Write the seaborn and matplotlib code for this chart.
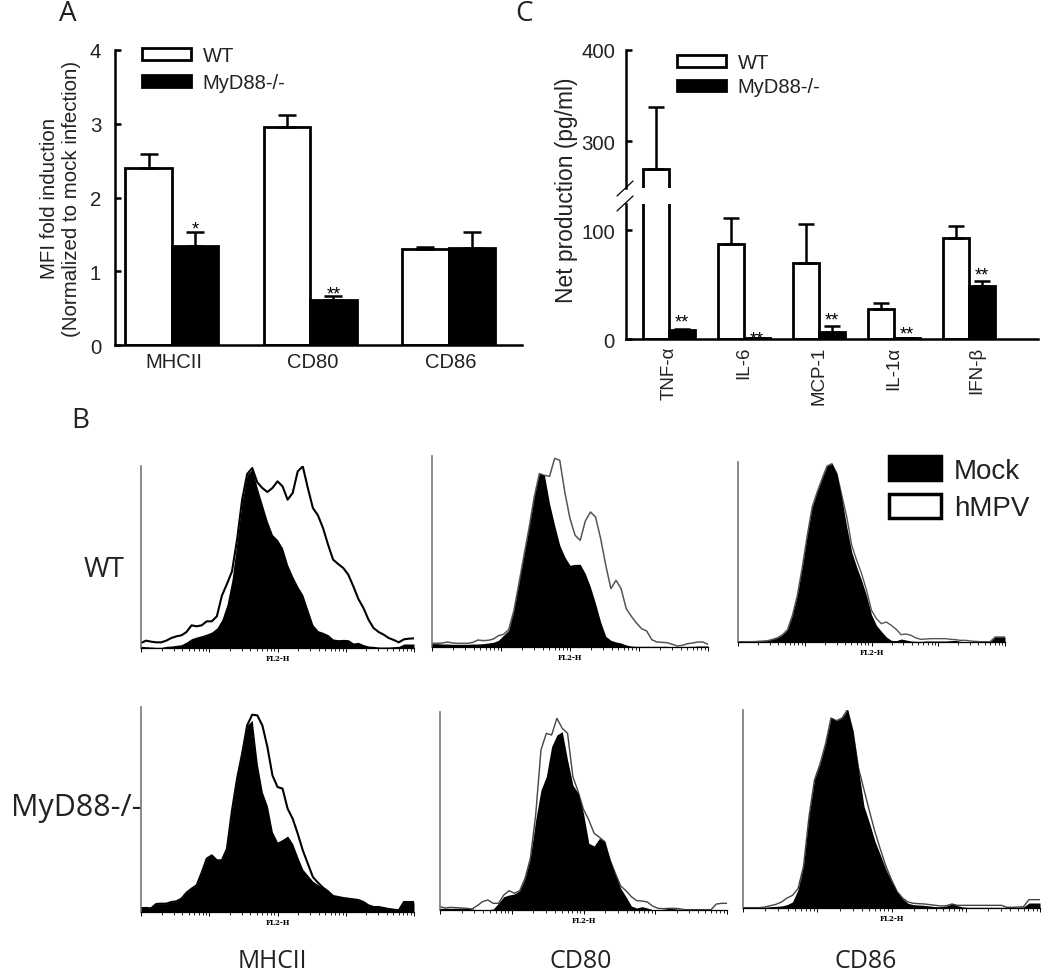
import numpy as np
import pandas as pd
import matplotlib
matplotlib.use('Agg')
import matplotlib.pyplot as plt
from matplotlib.lines import Line2D
from matplotlib.patches import Patch
from matplotlib.ticker import LogLocator, NullFormatter
from matplotlib.transforms import ScaledTranslation
import seaborn as sns

# Bar panels
genotypes = ['WT', 'MyD88-/-']

a_markers = ['MHCII', 'CD80', 'CD86']
a_wt = [2.40, 2.95, 1.30]
a_ko = [1.34, 0.61, 1.32]
a_wt_err = [0.19, 0.17, 0.03]
a_ko_err = [0.19, 0.05, 0.21]
a_ko_stars = ['*', '**', '']

c_cytokines = ['TNF-α', 'IL-6', 'MCP-1', 'IL-1α', 'IFN-β']
c_wt = [269, 87, 70, 27.5, 93]
c_ko = [8, 1, 6, 1, 48.5]
c_wt_err = [68, 24, 35.5, 5.5, 11]
c_ko_err = [1, 0, 6, 0, 5]
c_ko_stars = ['**', '**', '**', '**', '**']

# Flow cytometry histograms, counts on 55 log spaced FL2-H channels
channels = 10 ** np.linspace(0, 4, 55)

wt_mhcii_mock = [5, 4, 3, 2, 2, 5, 6, 8, 10, 18, 28, 33, 37, 42, 48, 60, 85, 130, 205, 320, 440, 520, 537, 480, 430, 380, 340, 325, 300, 250, 215, 185, 160, 115, 70, 52, 47, 40, 27, 25, 26, 25, 15, 17, 10, 6, 5, 3, 3, 3, 4, 5, 12, 12, 12]
wt_mhcii_hmpv = [15, 22, 19, 17, 17, 22, 30, 35, 38, 48, 68, 65, 68, 80, 80, 95, 157, 192, 230, 325, 445, 522, 540, 497, 480, 468, 480, 500, 485, 445, 465, 530, 545, 480, 420, 398, 360, 310, 265, 252, 240, 220, 185, 147, 120, 85, 60, 48, 40, 30, 24, 17, 26, 28, 29]
wt_cd80_mock = [10, 10, 9, 9, 8, 8, 8, 8, 9, 9, 10, 12, 14, 20, 35, 50, 108, 190, 275, 358, 450, 520, 515, 430, 365, 305, 270, 245, 248, 248, 220, 180, 130, 75, 32, 20, 15, 12, 6, 3, 2, 2, 2, 2, 2, 2, 2, 1, 1, 1, 2, 2, 3, 3, 3]
wt_cd80_hmpv = [11, 11, 12, 15, 12, 11, 11, 11, 14, 21, 19, 20, 24, 34, 38, 52, 108, 190, 275, 358, 450, 520, 515, 512, 566, 560, 463, 385, 335, 320, 378, 405, 390, 325, 245, 175, 200, 175, 115, 92, 72, 55, 48, 22, 15, 14, 13, 8, 3, 5, 10, 12, 15, 15, 8]
wt_cd86_mock = [1, 1, 1, 1, 2, 3, 4, 8, 13, 22, 37, 80, 140, 225, 320, 405, 450, 490, 528, 535, 505, 430, 345, 270, 225, 185, 138, 82, 50, 32, 15, 5, 4, 9, 6, 3, 2, 2, 3, 3, 3, 3, 3, 4, 5, 2, 1, 1, 1, 1, 1, 1, 15, 15, 15]
wt_cd86_hmpv = [1, 1, 1, 1, 2, 3, 4, 8, 13, 22, 37, 80, 140, 225, 320, 405, 450, 490, 528, 535, 505, 440, 375, 290, 245, 205, 155, 95, 70, 55, 60, 50, 38, 22, 24, 20, 12, 8, 9, 10, 10, 10, 10, 8, 7, 5, 5, 3, 2, 1, 1, 1, 15, 15, 15]
ko_mhcii_mock = [12, 12, 11, 24, 25, 25, 30, 32, 40, 58, 70, 80, 118, 160, 170, 155, 155, 190, 305, 400, 475, 560, 575, 445, 360, 318, 240, 210, 218, 228, 205, 165, 128, 110, 92, 82, 73, 62, 48, 45, 42, 40, 38, 36, 30, 20, 15, 15, 12, 9, 7, 5, 30, 30, 30]
ko_mhcii_hmpv = [12, 12, 11, 24, 25, 25, 30, 32, 40, 58, 70, 80, 118, 160, 170, 155, 155, 190, 305, 400, 475, 560, 592, 590, 560, 495, 410, 375, 370, 310, 280, 235, 185, 145, 105, 88, 73, 62, 48, 45, 42, 40, 38, 36, 30, 20, 15, 15, 12, 9, 7, 5, 30, 30, 30]
ko_cd80_mock = [5, 5, 5, 5, 5, 5, 3, 1, 1, 1, 3, 20, 40, 45, 48, 58, 95, 155, 270, 360, 400, 490, 525, 535, 450, 375, 350, 290, 200, 192, 215, 205, 150, 105, 65, 40, 12, 6, 10, 6, 1, 1, 2, 5, 4, 2, 1, 1, 1, 1, 1, 1, 1, 1, 1]
ko_cd80_hmpv = [10, 6, 8, 7, 6, 5, 3, 13, 25, 30, 20, 20, 45, 58, 50, 58, 95, 155, 285, 480, 530, 525, 575, 545, 530, 400, 355, 302, 270, 230, 218, 205, 150, 110, 72, 58, 40, 28, 27, 24, 12, 5, 4, 5, 5, 4, 1, 1, 1, 1, 1, 1, 18, 20, 20]
ko_cd86_mock = [1, 1, 1, 1, 2, 4, 5, 6, 10, 18, 55, 125, 275, 385, 432, 492, 570, 562, 570, 595, 530, 415, 305, 255, 200, 158, 115, 80, 48, 28, 14, 10, 9, 8, 6, 4, 4, 6, 12, 7, 3, 2, 2, 2, 2, 2, 2, 2, 2, 2, 2, 3, 15, 15, 15]
ko_cd86_hmpv = [1, 1, 1, 1, 3, 7, 11, 18, 30, 38, 58, 125, 275, 385, 432, 492, 570, 562, 570, 595, 530, 420, 355, 290, 228, 175, 125, 85, 50, 30, 18, 14, 13, 12, 10, 8, 6, 7, 12, 8, 8, 8, 8, 8, 8, 8, 8, 8, 2, 2, 3, 4, 25, 25, 25]

W, H = 1050, 979
TEXT = '#222222'
SANS = 'Liberation Sans'
LABEL = 'Open Sans'

sns.set_theme(style='white')
plt.rcParams['font.family'] = [SANS, 'DejaVu Sans']


def add_ax(left, right, top, bottom):
    # axes placed from pixel edges of the 1050x979 canvas
    return fig.add_axes([left / W, 1 - bottom / H, (right - left) / W, (bottom - top) / H])


def draw_bars(ax, cats, wt, ko, wt_err, ko_err, width, capsize):
    df = pd.DataFrame({
        'cat': cats * 2,
        'val': list(wt) + list(ko),
        'geno': [genotypes[0]] * len(cats) + [genotypes[1]] * len(cats),
    })
    sns.barplot(data=df, x='cat', y='val', hue='geno', hue_order=genotypes,
                palette={genotypes[0]: 'white', genotypes[1]: 'black'},
                width=width, gap=0, edgecolor='black', linewidth=2, saturation=1,
                legend=False, errorbar=None, ax=ax)
    for cont, vals, errs in zip(ax.containers, [wt, ko], [wt_err, ko_err]):
        xs = [p.get_x() + p.get_width() / 2 for p in cont]
        ax.errorbar(xs, vals, yerr=[np.zeros(len(errs)), errs], fmt='none', ecolor='black',
                    elinewidth=1.8, capsize=capsize, capthick=1.8, zorder=1)


def style_bar_ax(ax, pad):
    sns.despine(ax=ax)
    for side in ['left', 'bottom']:
        ax.spines[side].set_linewidth(1.8)
        ax.spines[side].set_color('black')
    ax.set_xlabel('')
    ax.set_ylabel('')
    ax.tick_params(axis='y', direction='in', length=4, width=1.8, color='black',
                   labelsize=14.7, labelcolor=TEXT, pad=pad, left=True)
    ax.tick_params(axis='x', length=0, labelcolor=TEXT)


def add_stars(ax, xs, tops, stars, offsets):
    for x, top, s, off in zip(xs, tops, stars, offsets):
        if s:
            ax.annotate(s, (x, top), xytext=(0, off), textcoords='offset points',
                        ha='center', va='center', fontsize=13, color='black')


def bar_legend(x, y, spacing):
    handles = [Patch(facecolor='white', edgecolor='black', linewidth=2, label=genotypes[0]),
               Patch(facecolor='black', edgecolor='black', linewidth=2, label=genotypes[1])]
    fig.legend(handles=handles, loc='upper left', bbox_to_anchor=(x / W, 1 - y / H),
               frameon=False, fontsize=14.5, handlelength=2.45, handleheight=0.5,
               handletextpad=0.55, labelspacing=spacing, borderpad=0, borderaxespad=0,
               labelcolor=TEXT)


def shift_label(label, px):
    label.set_transform(label.get_transform() + ScaledTranslation(px / 100, 0, fig.dpi_scale_trans))


fig = plt.figure(figsize=(W / 100, H / 100), dpi=100)

# Panel A
ax_a = add_ax(115, 522, 51, 346)
draw_bars(ax_a, a_markers, a_wt, a_ko, a_wt_err, a_ko_err, 0.67, 6.5)
style_bar_ax(ax_a, 10)
ax_a.set_xlim(-0.41, 2.53)
ax_a.set_ylim(0, 4)
ax_a.set_yticks([0, 1, 2, 3, 4])
ax_a.tick_params(axis='x', labelsize=14.5, pad=5)
for lab in ax_a.get_xticklabels():
    shift_label(lab, 2)
ko_x = [p.get_x() + p.get_width() / 2 for p in ax_a.containers[1]]
add_stars(ax_a, ko_x, np.add(a_ko, a_ko_err), a_ko_stars, [2, 2, 2])
ax_a.set_ylabel('MFI fold induction\n(Normalized to mock infection)', fontsize=14.8,
                color=TEXT, linespacing=1.2, labelpad=6)
bar_legend(142, 47, 0.4)

# Panel C, broken y axis
ax_low = add_ax(626, 1038, 205, 340)
ax_up = add_ax(626, 1038, 51, 189)
for ax in [ax_low, ax_up]:
    draw_bars(ax, c_cytokines, c_wt, c_ko, c_wt_err, c_ko_err, 0.69, 5.5)
    style_bar_ax(ax, 8)
    ax.set_xlim(-0.573, 4.92)
ax_low.set_ylim(0, 123.9)
ax_low.set_yticks([0, 100])
ax_up.set_ylim(248.4, 400)
ax_up.set_yticks([300, 400])
ax_up.spines['bottom'].set_visible(False)
ax_up.set_xticks([])
ax_low.tick_params(axis='x', labelsize=13.5, labelrotation=90, pad=5)
shift_label(ax_low.get_xticklabels()[-1], 8)
for ax in [ax_low, ax_up]:
    ax.patch.set_alpha(0)
ko_x = [p.get_x() + p.get_width() / 2 for p in ax_low.containers[1]]
add_stars(ax_low, ko_x, np.add(c_ko, c_ko_err), c_ko_stars, [5, -1, 4, 3, 4])
fig.text(567 / W, 1 - 190 / H, 'Net production (pg/ml)', rotation=90, ha='center', va='center',
         fontsize=16.4, color=TEXT)
for y0, y1 in [(197, 182), (212, 197)]:
    fig.add_artist(Line2D([617 / W, 633 / W], [1 - y0 / H, 1 - y1 / H], color='black', lw=0.9))
bar_legend(677, 54, 0.27)

# Panel B, histograms: mock filled, hMPV outlined
panels = [
    (141, 414, 467, 649, wt_mhcii_mock, wt_mhcii_hmpv, 'black', 1.5),
    (432, 708, 457, 648, wt_cd80_mock, wt_cd80_hmpv, '#555555', 1.1),
    (738, 1005, 463, 643, wt_cd86_mock, wt_cd86_hmpv, '#555555', 1.0),
    (141, 414, 708, 913, ko_mhcii_mock, ko_mhcii_hmpv, 'black', 1.5),
    (440, 727, 713, 911, ko_cd80_mock, ko_cd80_hmpv, '#444444', 1.0),
    (743, 1040, 711, 909, ko_cd86_mock, ko_cd86_hmpv, '#444444', 1.0),
]
for left, right, top, bottom, mock, hmpv, line_col, lw in panels:
    ax = add_ax(left, right, top, bottom)
    ax.fill_between(channels, 0, mock, color='black', lw=0, zorder=3)
    sns.lineplot(x=channels, y=hmpv, color=line_col, lw=lw, ax=ax, zorder=2)
    ax.set_xscale('log')
    ax.set_xlim(1, 1e4)
    ax.set_ylim(0, (bottom - top) * 3)
    sns.despine(ax=ax)
    ax.patch.set_alpha(0)
    ax.spines['left'].set_color('#777777')
    ax.spines['left'].set_linewidth(1.2)
    ax.spines['bottom'].set_color('black')
    ax.spines['bottom'].set_linewidth(0.9)
    ax.set_yticks([])
    ax.xaxis.set_major_locator(LogLocator(base=10, numticks=6))
    ax.xaxis.set_minor_locator(LogLocator(base=10, subs=np.arange(2, 10), numticks=6))
    ax.xaxis.set_minor_formatter(NullFormatter())
    ax.xaxis.set_major_formatter(NullFormatter())
    ax.tick_params(axis='x', which='major', bottom=True, length=3, width=0.7, color='black', pad=0)
    ax.tick_params(axis='x', which='minor', bottom=True, length=2, width=0.6, color='black')
    ax.set_xlabel('FL2-H', fontsize=5, family='DejaVu Serif', fontweight='bold', labelpad=-1, color='black')
    ax.set_ylabel('')

mock_legend = [Patch(facecolor='black', edgecolor='black', linewidth=2.5, label='Mock'),
               Patch(facecolor='white', edgecolor='black', linewidth=2.5, label='hMPV')]
fig.legend(handles=mock_legend, loc='upper left', bbox_to_anchor=(889 / W, 1 - 457 / H), frameon=False,
           fontsize=20, handlelength=1.87, handleheight=0.97, handletextpad=0.47,
           labelspacing=0.36, borderpad=0, borderaxespad=0, labelcolor=TEXT)

# Free labels
labels = [
    ('A', 68, 14, 20), ('C', 524, 14, 20), ('B', 80, 421, 20),
    ('WT', 104, 570, 20), ('MyD88-/-', 76, 808, 22),
    ('MHCII', 272, 962, 17.7), ('CD80', 581, 962, 18), ('CD86', 866, 962, 18),
]
for txt, x, y, size in labels:
    fig.text(x / W, 1 - y / H, txt, fontsize=size, ha='center', va='center', family=LABEL, color=TEXT)

fig.savefig('out.png', dpi=100)
